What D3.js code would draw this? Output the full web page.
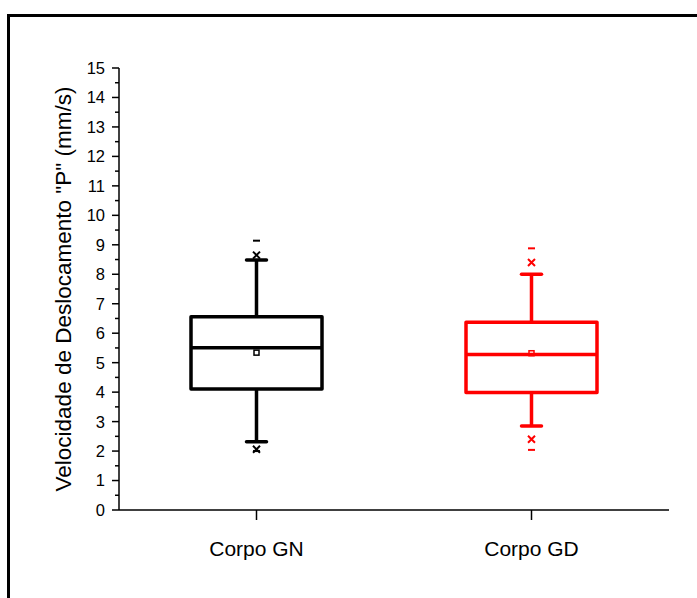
<!DOCTYPE html>
<html>
<head>
<meta charset="utf-8">
<script src="https://cdn.jsdelivr.net/npm/d3@7"></script>
<style>
  body { margin: 0; background: #fff; }
  svg { display: block; font-family: Arial, "Liberation Sans", sans-serif; }
</style>
</head>
<body>
<svg id="chart" width="697" height="598"></svg>
<script>
// Box statistics per group
const categories = ["Corpo GN", "Corpo GD"];
const colors = ["#000000", "#ff0000"];
const q1 = [4.11, 3.99];
const median = [5.51, 5.28];
const q3 = [6.56, 6.37];
const whiskerLow = [2.32, 2.85];
const whiskerHigh = [8.48, 8.0];
const mean = [5.34, 5.32];
const p1 = [2.06, 2.40];
const p99 = [8.65, 8.40];
const minVal = [2.0, 2.04];
const maxVal = [9.14, 8.88];
const yTicks = d3.range(0, 16);

const svg = d3.select("#chart");
const margin = { left: 119, right: 28, top: 68, bottom: 88 };
const W = 697, H = 598;

// outer frame (top and left edges)
svg.append("line").attr("x1", 7).attr("x2", 697).attr("y1", 15.5).attr("y2", 15.5)
  .attr("stroke", "#000").attr("stroke-width", 3);
svg.append("line").attr("x1", 8.5).attr("x2", 8.5).attr("y1", 14).attr("y2", 598)
  .attr("stroke", "#000").attr("stroke-width", 3);

const x = d3.scalePoint().domain(categories)
  .range([margin.left, W - margin.right]).padding(0.5);
const y = d3.scaleLinear().domain([0, 15]).range([H - margin.bottom, margin.top]);

// y axis with minor ticks
const yAxis = svg.append("g").attr("transform", `translate(${margin.left},0)`);
yAxis.append("line").attr("x1", 0).attr("x2", 0).attr("y1", y(15)).attr("y2", y(0))
  .attr("stroke", "#000").attr("stroke-width", 1.5);
yAxis.selectAll(".major").data(yTicks).join("line")
  .attr("x1", -7).attr("x2", 0).attr("y1", d => y(d)).attr("y2", d => y(d))
  .attr("stroke", "#000").attr("stroke-width", 1.5);
yAxis.selectAll(".minor").data(yTicks.slice(0, -1).map(d => d + 0.5)).join("line")
  .attr("x1", -4).attr("x2", 0).attr("y1", d => y(d)).attr("y2", d => y(d))
  .attr("stroke", "#000").attr("stroke-width", 1.5);
yAxis.selectAll("text").data(yTicks).join("text")
  .attr("x", -14).attr("y", d => y(d)).attr("dy", "0.36em")
  .attr("text-anchor", "end").attr("font-size", 16.5).text(d => d);

// x axis
const xAxis = svg.append("g");
xAxis.append("line").attr("x1", margin.left).attr("x2", W - margin.right)
  .attr("y1", y(0)).attr("y2", y(0)).attr("stroke", "#000").attr("stroke-width", 1.5);
xAxis.selectAll(".tick").data(categories).join("line")
  .attr("x1", d => x(d)).attr("x2", d => x(d)).attr("y1", y(0)).attr("y2", y(0) + 10)
  .attr("stroke", "#000").attr("stroke-width", 1.5);
xAxis.selectAll("text").data(categories).join("text")
  .attr("x", d => x(d)).attr("y", 556).attr("text-anchor", "middle")
  .attr("font-size", 21).text(d => d);

// y axis title
svg.append("text")
  .attr("transform", `translate(71,289) rotate(-90)`)
  .attr("text-anchor", "middle").attr("font-size", 22.5)
  .text('Velocidade de Deslocamento "P" (mm/s)');

// boxes
const boxW = 131, capW = 20;
categories.forEach((c, i) => {
  const g = svg.append("g").attr("stroke", colors[i]).attr("fill", "none");
  const cx = x(c);
  const sw = 3.5;
  // whiskers
  g.append("line").attr("x1", cx).attr("x2", cx).attr("y1", y(q3[i])).attr("y2", y(whiskerHigh[i])).attr("stroke-width", sw);
  g.append("line").attr("x1", cx).attr("x2", cx).attr("y1", y(q1[i])).attr("y2", y(whiskerLow[i])).attr("stroke-width", sw);
  [whiskerHigh[i], whiskerLow[i]].forEach(v => {
    g.append("line").attr("x1", cx - capW / 2).attr("x2", cx + capW / 2)
      .attr("y1", y(v)).attr("y2", y(v)).attr("stroke-width", sw).attr("stroke-linecap", "round");
  });
  // box
  g.append("rect").attr("x", cx - boxW / 2).attr("width", boxW)
    .attr("y", y(q3[i])).attr("height", y(q1[i]) - y(q3[i])).attr("stroke-width", sw)
    .attr("stroke-linejoin", "round");
  // mean (drawn under the median line)
  g.append("rect").attr("x", cx - 2.5).attr("y", y(mean[i]) - 2.5).attr("width", 5).attr("height", 5)
    .attr("stroke-width", 1.5).attr("fill", "#fff");
  // median
  g.append("line").attr("x1", cx - boxW / 2).attr("x2", cx + boxW / 2)
    .attr("y1", y(median[i])).attr("y2", y(median[i])).attr("stroke-width", sw);
  // 1% / 99% crosses
  [p1[i], p99[i]].forEach(v => {
    const py = y(v), s = 3.5;
    g.append("path").attr("d", `M${cx - s},${py - s}L${cx + s},${py + s}M${cx - s},${py + s}L${cx + s},${py - s}`)
      .attr("stroke-width", 2);
  });
  // min / max dashes
  [minVal[i], maxVal[i]].forEach(v => {
    g.append("line").attr("x1", cx - 3.5).attr("x2", cx + 3.5).attr("y1", y(v)).attr("y2", y(v))
      .attr("stroke-width", 2);
  });
});
</script>
</body>
</html>
